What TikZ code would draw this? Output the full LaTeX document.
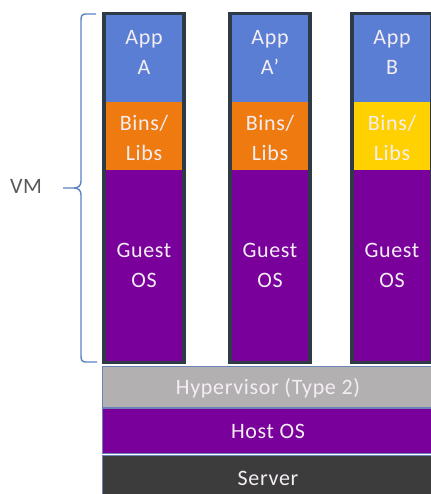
\documentclass[tikz,border=0pt]{standalone}
\usepackage{fontspec}
\setmainfont{Carlito}
\definecolor{bluec}{HTML}{5A7ED4}
\definecolor{orangec}{HTML}{EE7A10}
\definecolor{yellowc}{HTML}{FFD100}
\definecolor{purplec}{HTML}{7A009C}
\definecolor{hyperc}{HTML}{B2B0B0}
\definecolor{serverc}{HTML}{3C3C3C}
\definecolor{framec}{HTML}{2F3A47}
\definecolor{txtc}{HTML}{F4EEF4}
\definecolor{vmc}{HTML}{595959}
\definecolor{bracec}{HTML}{5B84C4}
\definecolor{edgec}{HTML}{6A82B8}
\begin{document}
\begin{tikzpicture}[x=1pt,y=-1pt,
  every node/.style={inner sep=0pt, outer sep=0pt},
  frame/.style={fill=framec, draw=none, anchor=north west, minimum width=84pt, minimum height=352pt},
  cell/.style={draw=none, anchor=north west, minimum width=76pt},
  layer/.style={draw=edgec, line width=1pt, anchor=north west, minimum width=332pt},
  lbl/.style={text=txtc, align=center, font=\fontsize{22}{30}\selectfont\addfontfeatures{LetterSpace=3}},
  brace/.style={draw=bracec, line width=1.4pt}
]
\useasboundingbox (0,0) rectangle (430,494);
\fill[white] (0,0) rectangle (430,494);
\foreach \x/\n/\bb/\c in {102/1/A/orangec, 228/2/A’/orangec, 350/3/B/yellowc}{
  \node[frame] (col\n) at (\x,12) {};
  \node[cell, fill=bluec, minimum height=87pt] (app\n) at ({\x+4},15) {};
  \node[cell, fill=\c, minimum height=68pt] (bins\n) at ({\x+4},102) {};
  \node[cell, fill=purplec, minimum height=191pt] (guest\n) at ({\x+4},170) {};
  \node[lbl] (tapp\n) at ({\x+42},52) {App\\\bb};
  \node[lbl] (tbins\n) at ({\x+42},138) {Bins/\\Libs};
  \node[lbl] (tguest\n) at ({\x+42},265) {Guest\\OS};
}
\node[layer, fill=hyperc, minimum height=41pt] (hyp) at (102,366) {};
\node[lbl] (thyp) at (268,388) {Hypervisor (Type 2)};
\node[layer, fill=purplec, minimum height=45pt] (host) at (102,408) {};
\node[lbl] (thost) at (268,431) {Host OS};
\node[layer, fill=serverc, minimum height=45pt] (server) at (102,455) {};
\node[lbl] (tserver) at (268,478) {Server};
\node[text=vmc, font=\fontsize{22}{26}\selectfont\addfontfeatures{LetterSpace=3}] (vm) at (26,186) {VM};
\draw[brace] (96,14) -- (86,14) .. controls (82,14) and (81,16) .. (81,20) -- (81,181) .. controls (81,186) and (78,188) .. (74,188) -- (63,188);
\draw[brace] (74,188) .. controls (78,188) and (81,190) .. (81,195) -- (81,356) .. controls (81,360) and (82,362) .. (86,362) -- (97,362);
\end{tikzpicture}
\end{document}
